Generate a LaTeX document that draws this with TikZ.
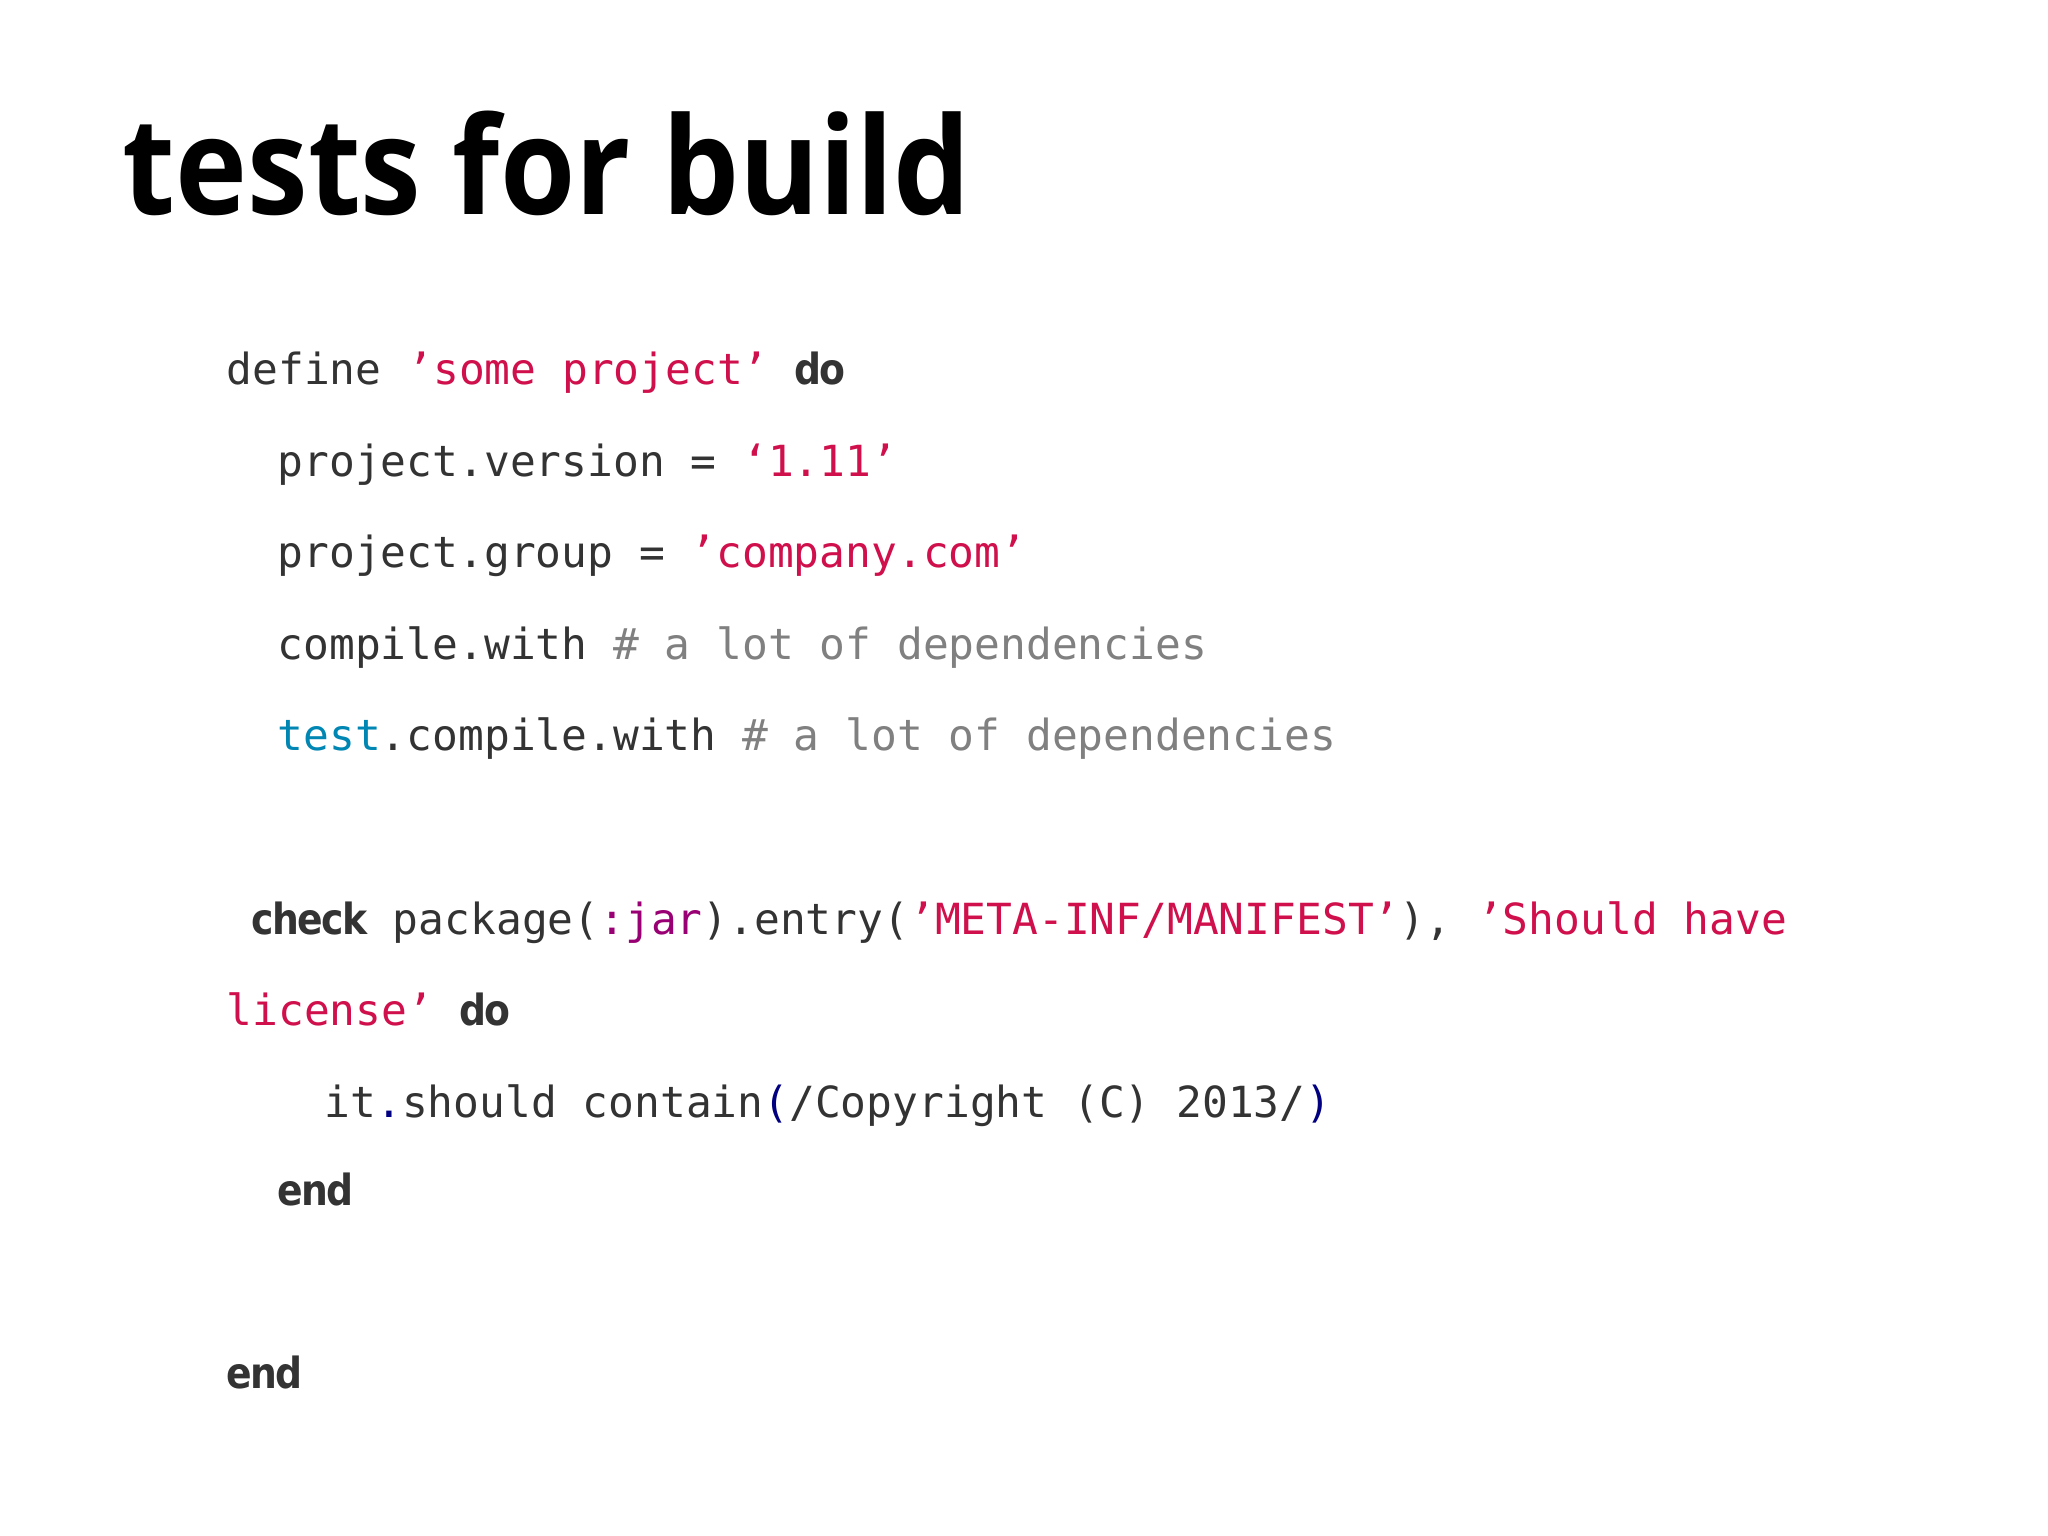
\documentclass[tikz,border=0pt]{standalone}
\usepackage{fontspec}
\setmainfont{Open Sans}
\newfontfamily\titlefont{Open Sans}[FakeStretch=0.9]
\newfontfamily\codefont{DejaVu Sans Mono}
\newfontfamily\kwfontfam{DejaVu Sans}[FakeStretch=0.88,LetterSpace=-4]
\definecolor{txt}{HTML}{333333}
\definecolor{str}{HTML}{D0104C}
\definecolor{cmt}{HTML}{808080}
\definecolor{tst}{HTML}{0086B3}
\definecolor{sym}{HTML}{990073}
\definecolor{par}{HTML}{000080}
\newcommand{\kwd}[1]{{\kwfontfam\bfseries\color{txt}#1}}
\newcommand{\strg}[1]{{\color{str}#1}}
\newcommand{\cmtx}[1]{{\color{cmt}#1}}
\tikzset{code/.style={anchor=base west,inner sep=0pt,font=\codefont\fontsize{12.2pt}{14pt}\selectfont,text=txt}}
\begin{document}
\begin{tikzpicture}
\useasboundingbox (0,0) rectangle (20.48,-15.36);
\fill[white] (0,0) rectangle (20.48,-15.36);
\node[anchor=base west,inner sep=0pt,font=\titlefont\bfseries\fontsize{38.5pt}{42pt}\selectfont] (title) at (1.22,-2.15) {tests for build};
\node[code] (l1) at (2.26,-3.85) {define \strg{’some project’} \kwd{do}};
\node[code] (l2) at (2.77,-4.77) {project.version = \strg{‘1.11’}};
\node[code] (l3) at (2.77,-5.68) {project.group = \strg{’company.com’}};
\node[code] (l4) at (2.77,-6.60) {compile.with \cmtx{\# a lot of dependencies}};
\node[code] (l5) at (2.77,-7.51) {{\color{tst}test}.compile.with \cmtx{\# a lot of dependencies}};
\node[code] (l6) at (2.51,-9.34) {\kwd{check} package({\color{sym}:jar}).entry(\strg{’META-INF/MANIFEST’}), \strg{’Should have}};
\node[code] (l7) at (2.26,-10.25) {\strg{license’} \kwd{do}};
\node[code] (l8) at (3.24,-11.17) {it{\color{par}.}should contain{\color{par}(}/Copyright (C) 2013/{\color{par})}};
\node[code] (l9) at (2.77,-12.05) {\kwd{end}};
\node[code] (l10) at (2.26,-13.88) {\kwd{end}};
\end{tikzpicture}
\end{document}
